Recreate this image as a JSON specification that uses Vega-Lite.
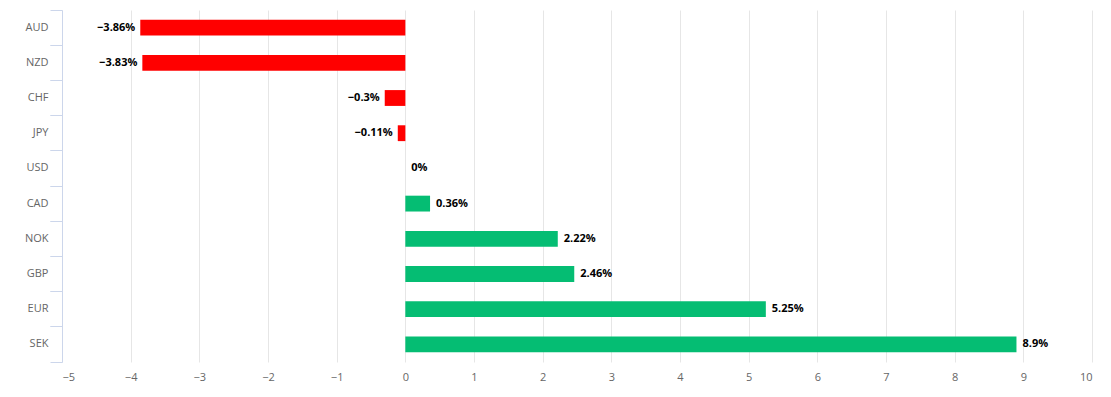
{
  "$schema": "https://vega.github.io/schema/vega-lite/v6.json",
  "width": 1030,
  "height": 352,
  "autosize": {"type": "none"},
  "padding": {"left": 62, "top": 10, "right": 19, "bottom": 35},
  "background": "white",
  "config": {"view": {"stroke": null}, "font": "Open Sans"},
  "data": {
    "values": [
      {"currency": "AUD", "value": -3.86, "label": "−3.86%"},
      {"currency": "NZD", "value": -3.83, "label": "−3.83%"},
      {"currency": "CHF", "value": -0.3, "label": "−0.3%"},
      {"currency": "JPY", "value": -0.11, "label": "−0.11%"},
      {"currency": "USD", "value": 0, "label": "0%"},
      {"currency": "CAD", "value": 0.36, "label": "0.36%"},
      {"currency": "NOK", "value": 2.22, "label": "2.22%"},
      {"currency": "GBP", "value": 2.46, "label": "2.46%"},
      {"currency": "EUR", "value": 5.25, "label": "5.25%"},
      {"currency": "SEK", "value": 8.9, "label": "8.9%"}
    ]
  },
  "resolve": {"axis": {"y": "independent"}},
  "layer": [
    {
      "mark": {"type": "bar", "height": {"band": 0.45}},
      "encoding": {
        "y": {
          "field": "currency", "type": "nominal", "sort": null,
          "scale": {"paddingInner": 0, "paddingOuter": 0},
          "axis": {"orient": "left", "title": null, "ticks": false, "grid": false,
                   "domainColor": "#ccd6eb", "labelColor": "#666666", "labelFontSize": 11,
                   "labelPadding": 14, "labelFont": "Open Sans"}
        },
        "x": {
          "field": "value", "type": "quantitative",
          "scale": {"domain": [-5, 10], "nice": false, "zero": true},
          "axis": {"title": null, "values": [-5,-4,-3,-2,-1,0,1,2,3,4,5,6,7,8,9,10],
                   "format": "d",
                   "grid": true, "gridColor": "#e6e6e6", "domain": false, "ticks": false,
                   "labelColor": "#666666", "labelFontSize": 11, "labelPadding": 9,
                   "labelFont": "Open Sans"}
        },
        "color": {
          "condition": {"test": "datum.value < 0", "value": "#ff0000"},
          "value": "#05bd73"
        }
      }
    },
    {
      "transform": [{"filter": "datum.value < 0"}],
      "mark": {"type": "text", "align": "right", "dx": -5, "fontWeight": "bold", "fontSize": 11, "color": "#000000", "font": "Open Sans"},
      "encoding": {
        "y": {
          "field": "currency", "type": "nominal", "sort": null,
          "axis": {"orient": "left", "title": null, "labels": false, "domain": false, "grid": false,
                   "ticks": true, "tickSize": 12, "tickColor": "#ccd6eb", "bandPosition": 0}
        },
        "x": {"field": "value", "type": "quantitative"},
        "text": {"field": "label"}
      }
    },
    {
      "transform": [{"filter": "datum.value >= 0"}],
      "mark": {"type": "text", "align": "left", "dx": 6, "fontWeight": "bold", "fontSize": 11, "color": "#000000", "font": "Open Sans"},
      "encoding": {
        "y": {
          "field": "currency", "type": "nominal", "sort": null,
          "axis": {"orient": "left", "title": null, "labels": false, "domain": false, "grid": false,
                   "ticks": true, "tickSize": 12, "tickColor": "#ccd6eb", "bandPosition": 1}
        },
        "x": {"field": "value", "type": "quantitative"},
        "text": {"field": "label"}
      }
    }
  ]
}
